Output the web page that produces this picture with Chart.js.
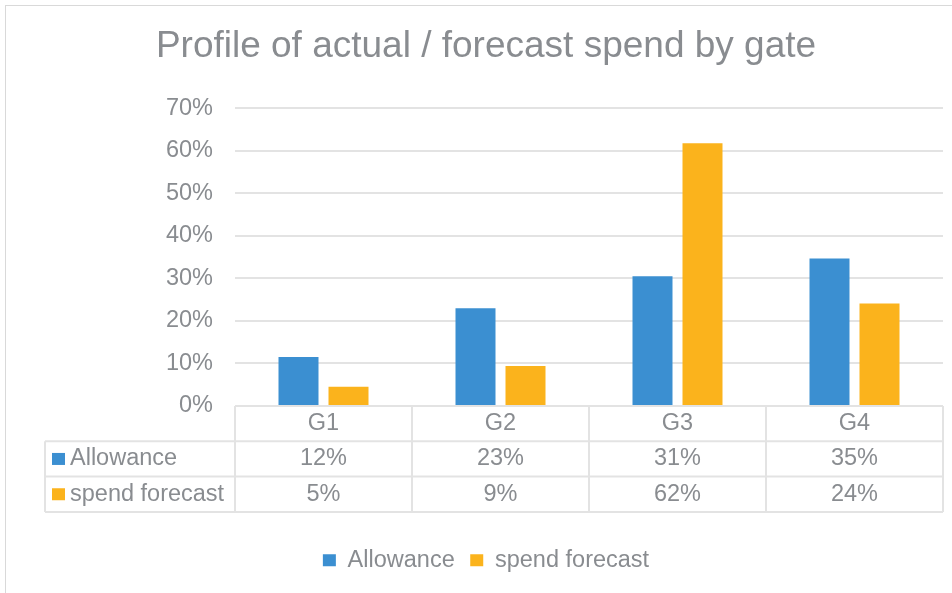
<!DOCTYPE html>
<html>
<head>
<meta charset="utf-8">
<script src="https://cdn.jsdelivr.net/npm/chart.js@4.4.1/dist/chart.umd.min.js"></script>
<style>
  html, body { margin: 0; padding: 0; background: #fff; overflow: hidden; }
  #wrap { position: relative; width: 952px; height: 593px; }
  #frame { position: absolute; left: 5px; top: 5px; width: 960px; height: 600px; border: 1px solid #d9d9d9; pointer-events: none; }
</style>
</head>
<body>
<div id="wrap">
  <canvas id="chart" width="952" height="593"></canvas>
  <div id="frame"></div>
</div>
<script>
const categories = ['G1', 'G2', 'G3', 'G4'];
const allowance = [0.115, 0.23, 0.305, 0.347];
const spendForecast = [0.045, 0.094, 0.618, 0.241];
// values printed in the data table under the plot
const allowanceLabels = ['12%', '23%', '31%', '35%'];
const spendLabels = ['5%', '9%', '62%', '24%'];
const seriesNames = ['Allowance', 'spend forecast'];
const seriesColors = ['#3B8FD1', '#FBB31C'];

const textColor = '#898c90';
const lineColor = '#e3e3e3';
const font = 'Arial, "Liberation Sans", sans-serif';
const fontSize = 23.5;

// draws the Excel style data table below the bars
const dataTable = {
    id: 'dataTable',
    afterDraw(chart) {
        const ctx = chart.ctx;
        const area = chart.chartArea;
        const x = chart.scales.x;
        const rowH = 35.3;
        const top = area.bottom;
        const labelLeft = 45;
        const colW = (area.right - area.left) / categories.length;
        const rows = [allowanceLabels, spendLabels];

        ctx.save();
        ctx.strokeStyle = lineColor;
        ctx.lineWidth = 2;
        ctx.beginPath();
        ctx.moveTo(area.left, top);
        ctx.lineTo(area.right, top);
        for (let r = 1; r <= 3; r++) {
            ctx.moveTo(labelLeft, top + r * rowH);
            ctx.lineTo(area.right, top + r * rowH);
        }
        ctx.moveTo(labelLeft, top + rowH);
        ctx.lineTo(labelLeft, top + 3 * rowH);
        for (let i = 0; i <= categories.length; i++) {
            const cx = area.left + i * colW;
            ctx.moveTo(cx, top);
            ctx.lineTo(cx, top + 3 * rowH);
        }
        ctx.stroke();

        ctx.fillStyle = textColor;
        ctx.font = fontSize + 'px ' + font;
        ctx.textAlign = 'center';
        ctx.textBaseline = 'middle';
        categories.forEach((c, i) => {
            const cx = x.getPixelForValue(i);
            ctx.fillText(c, cx, top + rowH / 2);
            rows.forEach((vals, r) => {
                ctx.fillText(vals[i], cx, top + (r + 1.5) * rowH);
            });
        });

        ctx.textAlign = 'left';
        seriesNames.forEach((name, r) => {
            const cy = top + (r + 1.5) * rowH;
            ctx.fillStyle = seriesColors[r];
            ctx.fillRect(52, cy - 6, 13, 12);
            ctx.fillStyle = textColor;
            ctx.fillText(name, 70, cy);
        });
        ctx.restore();
    }
};

new Chart(document.getElementById('chart').getContext('2d'), {
    type: 'bar',
    data: {
        labels: categories,
        datasets: [{
            label: seriesNames[0],
            data: allowance,
            backgroundColor: seriesColors[0]
        }, {
            label: seriesNames[1],
            data: spendForecast,
            backgroundColor: seriesColors[1]
        }]
    },
    options: {
        responsive: false,
        animation: false,
        layout: {
            padding: { left: 29, right: 9, top: 8, bottom: 11 }
        },
        categoryPercentage: 0.565,
        barPercentage: 0.8,
        scales: {
            x: {
                grid: { display: false },
                border: { display: false },
                ticks: { display: false },
                afterFit: s => { s.height = 127; }
            },
            y: {
                min: 0,
                max: 0.7,
                ticks: {
                    stepSize: 0.1,
                    padding: 22,
                    color: textColor,
                    font: { size: fontSize, family: font },
                    callback: v => Math.round(v * 100) + '%'
                },
                grid: { color: lineColor, lineWidth: 2, drawTicks: false },
                border: { display: false },
                afterFit: s => { s.width = 206; }
            }
        },
        plugins: {
            title: {
                display: true,
                text: 'Profile of actual / forecast spend by gate',
                color: textColor,
                font: { size: 37, weight: 'normal', family: font },
                padding: { top: 17, bottom: 39 }
            },
            legend: {
                position: 'bottom',
                labels: {
                    color: textColor,
                    font: { size: fontSize, family: font },
                    boxWidth: 13,
                    boxHeight: 12,
                    padding: 15.5
                }
            },
            tooltip: { enabled: false }
        }
    },
    plugins: [dataTable]
});
</script>
</body>
</html>
